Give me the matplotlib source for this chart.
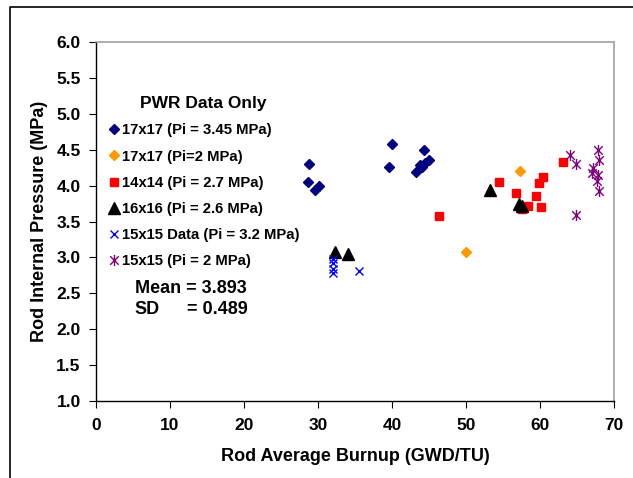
import matplotlib
matplotlib.use("Agg")
import matplotlib.pyplot as plt
from matplotlib.lines import Line2D
from matplotlib.path import Path

plt.rcParams['font.family'] = ['Liberation Sans', 'DejaVu Sans']
plt.rcParams['font.weight'] = 'bold'

# 17x17 (Pi = 3.45 MPa)
x_1717a = [28.8, 28.6, 29.6, 30.1, 40.0, 39.6, 44.3, 43.2, 43.8, 44.5, 45.0, 44.0]
y_1717a = [4.30, 4.05, 3.94, 4.00, 4.58, 4.26, 4.50, 4.19, 4.29, 4.31, 4.36, 4.26]
# 17x17 (Pi=2 MPa)
x_1717b = [50.0, 57.3]
y_1717b = [3.08, 4.21]
# 14x14 (Pi = 2.7 MPa)
x_1414 = [46.4, 54.5, 56.8, 59.4, 59.9, 60.4, 58.4, 60.2, 57.5, 63.1]
y_1414 = [3.58, 4.05, 3.90, 3.85, 4.03, 4.12, 3.72, 3.70, 3.67, 4.33]
# 16x16 (Pi = 2.6 MPa)
x_1616 = [32.3, 34.0, 53.2, 57.2, 57.5]
y_1616 = [3.08, 3.05, 3.94, 3.74, 3.71]
# 15x15 Data (Pi = 3.2 MPa)
x_1515a = [32.0, 32.0, 32.0, 32.0, 35.5]
y_1515a = [2.98, 2.92, 2.84, 2.78, 2.81]
# 15x15 (Pi = 2 MPa)
x_1515b = [64.0, 64.8, 64.8, 67.8, 68.0, 67.2, 67.0, 67.9, 67.7, 68.0]
y_1515b = [4.43, 4.30, 3.59, 4.50, 4.36, 4.24, 4.18, 4.15, 4.07, 3.92]

x_ticks = [0, 10, 20, 30, 40, 50, 60, 70]
y_ticks = [1.0, 1.5, 2.0, 2.5, 3.0, 3.5, 4.0, 4.5, 5.0, 5.5, 6.0]

# excel-style star: x with a vertical bar
star = Path([(-1, -1), (1, 1), (-1, 1), (1, -1), (0, -1.3), (0, 1.3)],
            [Path.MOVETO, Path.LINETO, Path.MOVETO, Path.LINETO, Path.MOVETO, Path.LINETO])

fig = plt.figure(figsize=(6.33, 4.78), dpi=100)
ax = fig.add_axes([96/633, 77/478, 518/633, 359/478])

ax.plot(x_1717a, y_1717a, 'D', color='#000080', ms=5.5, ls='none', label='17x17 (Pi = 3.45 MPa)')
ax.plot(x_1717b, y_1717b, 'D', color='#FF9900', ms=5.5, ls='none', label='17x17 (Pi=2 MPa)')
ax.plot(x_1414, y_1414, 's', color='#FF0000', ms=6, ls='none', label='14x14 (Pi = 2.7 MPa)')
ax.plot(x_1616, y_1616, '^', color='black', ms=8, ls='none', label='16x16 (Pi = 2.6 MPa)')
ax.plot(x_1515a, y_1515a, 'x', color='#0000FF', ms=6, mew=1, ls='none', label='15x15 Data (Pi = 3.2 MPa)')
ax.plot(x_1515b, y_1515b, marker=star, color='#800080', ms=8, mew=1, ls='none', label='15x15 (Pi = 2 MPa)')

ax.set_xlim(0, 70)
ax.set_ylim(1.0, 6.0)
ax.set_xticks(x_ticks)
ax.set_yticks(y_ticks)
ax.set_yticklabels([f'{v:.1f}' for v in y_ticks])
ax.tick_params(direction='out', length=5, labelsize=12.5, colors='black')
ax.tick_params(axis='x', pad=7)
ax.tick_params(axis='y', pad=6)
for s in ['top', 'right']:
    ax.spines[s].set_color('#a0a0a0')
    ax.spines[s].set_linewidth(1.2)
for s in ['left', 'bottom']:
    ax.spines[s].set_linewidth(1.0)

ax.set_xlabel('Rod Average Burnup (GWD/TU)', fontsize=13, fontweight='bold', labelpad=11)
ax.set_ylabel('Rod Internal Pressure (MPa)', fontsize=13, fontweight='bold', labelpad=6)

leg = ax.legend(loc='upper left', bbox_to_anchor=(0.0, 0.878), frameon=False,
                fontsize=10.7, title='PWR Data Only', title_fontproperties={'weight': 'bold', 'size': 12.5},
                handletextpad=0.05, handlelength=1.0, labelspacing=0.82, borderpad=0.2)
for t in leg.get_texts():
    t.set_fontweight('bold')

ax.text(0.075, 0.313, 'Mean = 3.893', transform=ax.transAxes, fontsize=13, fontweight='bold', va='center')
ax.text(0.075, 0.255, 'SD', transform=ax.transAxes, fontsize=13, fontweight='bold', va='center')
ax.text(0.175, 0.255, '= 0.489', transform=ax.transAxes, fontsize=13, fontweight='bold', va='center')

# outer chart frame
fig.add_artist(Line2D([10/633, 10/633, 1], [0, 1 - 7/478, 1 - 7/478], transform=fig.transFigure,
                      color='black', lw=1.2))

fig.savefig('out.png', dpi=100)
